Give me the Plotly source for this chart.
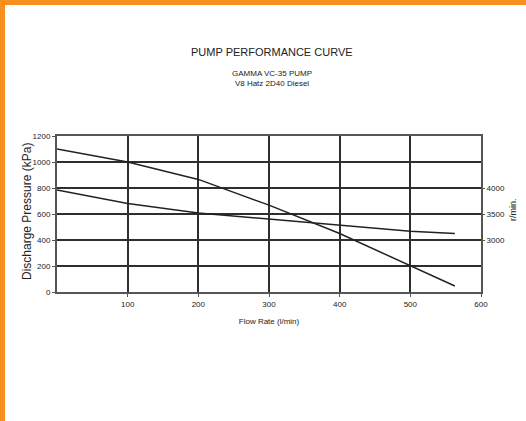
import plotly.graph_objects as go

flow = [0, 100, 200, 300, 400, 500, 563]
pressure_kpa = [1100, 1000, 866, 668, 450, 205, 46]
speed_rpm = [3960, 3700, 3520, 3400, 3285, 3170, 3125]

x_ticks = [100, 200, 300, 400, 500, 600]
y_ticks = [0, 200, 400, 600, 800, 1000, 1200]
y2_ticks = [3000, 3500, 4000]

W, H = 526, 421
L, R, T, B = 57, 45, 136, 129
pw, ph = W - L - R, H - T - B

def px(x):
    return (x - L) / pw

def py(y):
    return (H - B - y) / ph

FONT = "Liberation Sans Narrow, Arial Narrow, Liberation Sans, sans-serif"
INK = "#222222"

fig = go.Figure()
fig.add_trace(go.Scatter(x=flow, y=pressure_kpa, mode="lines",
                         line=dict(color=INK, width=1.5), showlegend=False))
fig.add_trace(go.Scatter(x=flow, y=speed_rpm, mode="lines", yaxis="y2",
                         line=dict(color=INK, width=1.5), showlegend=False))

fig.update_layout(
    width=W, height=H,
    margin=dict(l=L, r=R, t=T, b=B),
    paper_bgcolor="white", plot_bgcolor="white",
    font=dict(family=FONT, color=INK, size=8),
    xaxis=dict(range=[0, 600], tickvals=x_ticks, showgrid=True, gridcolor="#2e2e2e",
               gridwidth=1.5, showline=True, linecolor="#555", linewidth=2, mirror=True,
               ticks="outside", ticklen=3, tickcolor="#555", tickfont=dict(size=8),
               zeroline=False,
               title=dict(text="Flow Rate (l/min)", font=dict(size=8), standoff=11)),
    yaxis=dict(range=[0, 1200], tickvals=y_ticks, showgrid=True, gridcolor="#2e2e2e",
               gridwidth=1.5, showline=True, linecolor="#555", linewidth=2, mirror=True,
               ticks="outside", ticklen=3, tickcolor="#555", tickfont=dict(size=8),
               zeroline=False),
    yaxis2=dict(range=[2000, 5000], tickvals=y2_ticks, overlaying="y", side="right",
                showgrid=False, ticks="outside", ticklen=3, tickcolor="#555",
                tickfont=dict(size=8), zeroline=False),
    shapes=[
        dict(type="rect", xref="paper", yref="paper", x0=px(0), x1=px(W), y0=py(0), y1=py(5),
             fillcolor="#f7901e", line=dict(width=0), layer="above"),
        dict(type="rect", xref="paper", yref="paper", x0=px(0), x1=px(5), y0=py(0), y1=py(H),
             fillcolor="#f7901e", line=dict(width=0), layer="above"),
    ],
    annotations=[
        dict(text="PUMP PERFORMANCE CURVE", xref="paper", yref="paper", x=px(272), y=py(52),
             xanchor="center", yanchor="middle",
             showarrow=False, font=dict(size=11, family=FONT)),
        dict(text="GAMMA VC-35 PUMP<br>V8 Hatz 2D40 Diesel", xref="paper", yref="paper",
             x=px(272), y=py(78), xanchor="center", yanchor="middle",
             showarrow=False, font=dict(size=8, family=FONT)),
        dict(text="Discharge Pressure (kPa)", xref="paper", yref="paper", x=px(27), y=py(212),
             xanchor="center", yanchor="middle",
             textangle=-90, showarrow=False, font=dict(size=12, family=FONT)),
        dict(text="r/min.", xref="paper", yref="paper", x=px(513), y=py(210),
             xanchor="center", yanchor="middle",
             textangle=-90, showarrow=False, font=dict(size=9, family=FONT)),
    ],
)

fig.write_html("out.html", config={"displayModeBar": False},
               post_script="document.body.style.margin='0';")
